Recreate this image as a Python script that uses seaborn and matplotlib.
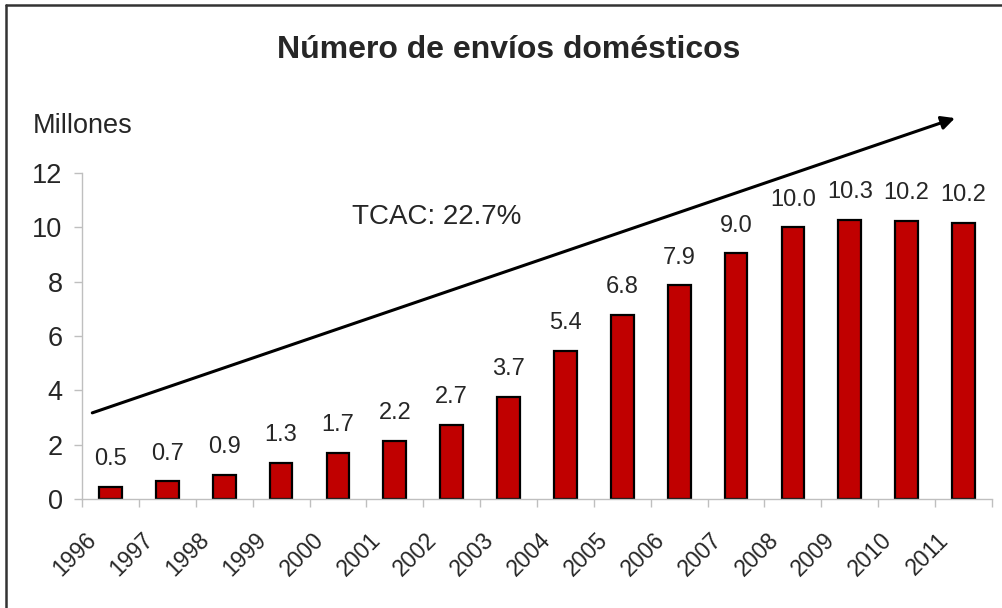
import pandas as pd
import seaborn as sns
import matplotlib.pyplot as plt
from matplotlib.lines import Line2D
from matplotlib.transforms import ScaledTranslation

years = ['1996', '1997', '1998', '1999', '2000', '2001', '2002', '2003',
         '2004', '2005', '2006', '2007', '2008', '2009', '2010', '2011']
envios = [0.5, 0.7, 0.9, 1.3, 1.7, 2.2, 2.7, 3.7, 5.4, 6.8, 7.9, 9.0, 10.0, 10.3, 10.2, 10.2]
# heights (labels round these)
alturas = [0.45, 0.65, 0.9, 1.32, 1.7, 2.15, 2.72, 3.75, 5.45, 6.78, 7.86, 9.04, 10.0, 10.27, 10.24, 10.16]
y_ticks = [0, 2, 4, 6, 8, 10, 12]
tcac_txt = 'TCAC: 22.7%'

sns.set_style('white')
plt.rcParams['font.family'] = ['Liberation Sans', 'DejaVu Sans']

df = pd.DataFrame({'year': years, 'value': alturas, 'label': envios})

fig = plt.figure(figsize=(10.03, 6.08), dpi=100)
ax = fig.add_axes([0.0818, 0.1793, 0.9072, 0.5362])

sns.barplot(data=df, x='year', y='value', color='#C00000', saturation=1,
            width=0.4, edgecolor='black', linewidth=1.6, ax=ax)

for i, (h, lab) in enumerate(zip(df['value'], df['label'])):
    ax.annotate(f'{lab:.1f}', xy=(i, h), xytext=(0, 20), textcoords='offset points',
                ha='center', va='center', fontsize=17)

ax.set_xlim(-0.5, len(years) - 0.5)
ax.set_ylim(0, 12)
ax.set_yticks(y_ticks)
ax.tick_params(axis='y', labelsize=19.5, length=6, color='#BFBFBF', width=1, pad=8, left=True)
ax.set_xticks(range(len(years)))
ax.set_xticklabels(years, rotation=45, ha='right', va='center', rotation_mode='anchor', fontsize=16.5)
ax.tick_params(axis='x', length=0, pad=27)
shift = ScaledTranslation(-13 / 72, 0, fig.dpi_scale_trans)
for lbl in ax.get_xticklabels():
    lbl.set_transform(lbl.get_transform() + shift)
ax.set_xticks([i - 0.5 for i in range(len(years) + 1)], minor=True)
ax.tick_params(axis='x', which='minor', length=6, color='#BFBFBF', width=1, bottom=True)
ax.set_xlabel('')
ax.set_ylabel('')

for side in ['top', 'right']:
    ax.spines[side].set_visible(False)
for side in ['left', 'bottom']:
    ax.spines[side].set_color('#BFBFBF')
    ax.spines[side].set_linewidth(1)

ax.annotate('', xy=(14.85, 14.02), xytext=(-0.32, 3.17),
            arrowprops=dict(arrowstyle='-|>', color='black', lw=2.2,
                            mutation_scale=20, shrinkA=0, shrinkB=0),
            annotation_clip=False)
ax.text(5.74, 10.38, tcac_txt, ha='center', va='center', fontsize=20)

fig.text(0.507, 0.918, 'Número de envíos domésticos', ha='center', va='center',
         fontsize=23, fontweight='bold')
fig.text(0.033, 0.793, 'Millones', ha='left', va='center', fontsize=19.5)

fig.add_artist(Line2D([0.006, 0.006], [0, 0.992], color='#333333', lw=1.8))
fig.add_artist(Line2D([0.006, 1], [0.992, 0.992], color='#333333', lw=1.8))

fig.savefig('out.png', dpi=100)
